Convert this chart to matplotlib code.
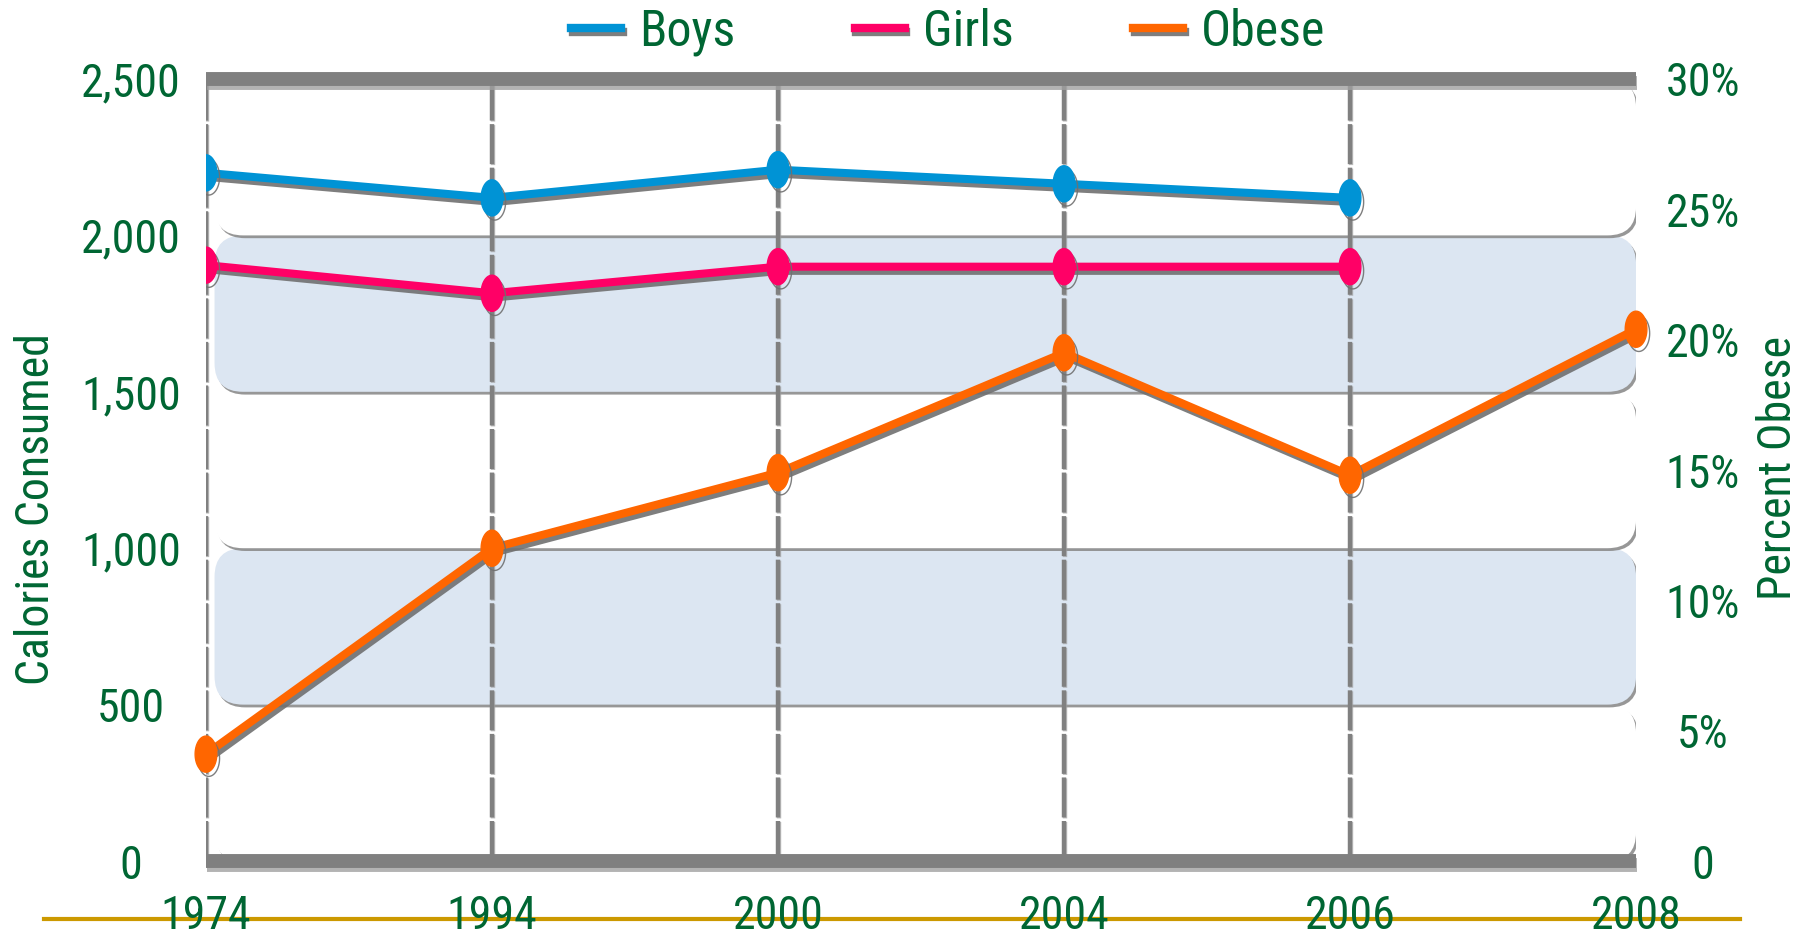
import numpy as np
import matplotlib
matplotlib.use("Agg")
import matplotlib.pyplot as plt
import matplotlib.patheffects as pe
from matplotlib.patches import FancyBboxPatch
from matplotlib.path import Path
from matplotlib.lines import Line2D

years = ["1974", "1994", "2000", "2004", "2006", "2008"]
boys = [2200, 2120, 2210, 2165, 2120]
girls = [1905, 1815, 1900, 1900, 1900]
obese = [4.1, 12.0, 14.9, 19.5, 14.8, 20.4]

cal_ticks = [0, 500, 1000, 1500, 2000, 2500]
pct_ticks = [0, 5, 10, 15, 20, 25, 30]
bands = [(0, 500, "white"), (500, 1000, "#dce6f2"), (1000, 1500, "white"),
         (1500, 2000, "#dce6f2"), (2000, 2500, "white")]

GREEN = "#006633"
plt.rcParams['font.family'] = ['Liberation Sans Narrow', 'Roboto Condensed', 'DejaVu Sans']
plt.rcParams['font.stretch'] = 'condensed'

# tall ellipse marker like the original
t = np.linspace(0, 2 * np.pi, 60)
ellipse = Path(np.column_stack([0.6 * np.cos(t), np.sin(t)]), closed=True)

shadow = [pe.SimpleLineShadow(offset=(2, -3), shadow_color="#707070", alpha=0.9), pe.Normal()]

fig = plt.figure(figsize=(18.13, 9.36), dpi=100)
ax = fig.add_axes([0.1136, 0.0801, 0.7888, 0.8355])
ax2 = ax.twinx()

x = np.arange(len(years))
ax.set_xlim(0, len(years) - 1)
ax.set_ylim(0, 2500)
ax2.set_ylim(0, 30)

# background bands with rounded corners and soft shadow
aspect = (2500 / 782) / (5 / 1430)
for lo, hi, col in bands:
    p = FancyBboxPatch((0.03, lo), 4.97, hi - lo,
                       boxstyle="round,pad=0,rounding_size=0.1",
                       mutation_aspect=aspect, fc=col, ec="none", zorder=0.5,
                       path_effects=[pe.SimplePatchShadow(offset=(1.5, -2), shadow_rgbFace="#8c8c8c", alpha=0.9),
                                     pe.Normal()])
    ax.add_patch(p)

# vertical dashed grid lines
ax.vlines(x[:-1], 0, 2500, colors="#808080", linewidth=3.2, linestyles=(0, (9, 0.8)), zorder=1,
          path_effects=[pe.SimpleLineShadow(offset=(1, -1), shadow_color="#a0a0a0", alpha=0.7), pe.Normal()])

# heavy top and bottom bars
for yv in (0, 2500):
    ax.axhline(yv, color="#808080", linewidth=10, zorder=2, clip_on=False, solid_capstyle="butt",
               path_effects=[pe.SimpleLineShadow(offset=(1, -3), shadow_color="#a0a0a0", alpha=0.8), pe.Normal()])

for s in ax.spines.values():
    s.set_visible(False)
for s in ax2.spines.values():
    s.set_visible(False)

ax.plot(x[:len(boys)], boys, color="#0093d5", lw=5.8, marker=ellipse, ms=26, zorder=5, path_effects=shadow)
ax.plot(x[:len(girls)], girls, color="#ff0066", lw=5.8, marker=ellipse, ms=26, zorder=5, path_effects=shadow)
ax2.plot(x, obese, color="#ff6600", lw=5.8, marker=ellipse, ms=26, zorder=5, path_effects=shadow, clip_on=False)

ax.set_yticks(cal_ticks)
ax.set_yticklabels([f"{v:,}" for v in cal_ticks], ha="center")
ax.set_xticks(x)
ax.set_xticklabels(years)
ax.tick_params(axis="y", length=0, pad=54, labelsize=33, labelcolor=GREEN)
ax.tick_params(axis="x", length=0, pad=24, labelsize=33, labelcolor=GREEN)

ax2.set_yticks(pct_ticks)
ax2.set_yticklabels(["0" if v == 0 else f"{v}%" for v in pct_ticks], ha="center")
ax2.tick_params(axis="y", length=0, pad=48, labelsize=33, labelcolor=GREEN)

ax.set_ylabel("Calories Consumed", fontsize=33, color=GREEN)
ax.yaxis.set_label_coords(-0.1035, 0.45)
ax2.set_ylabel("Percent Obese", fontsize=33, color=GREEN, rotation=90)
ax2.yaxis.set_label_coords(1.084, 0.503)
ax2.patch.set_visible(False)

handles = [Line2D([], [], color=c, lw=6, path_effects=[pe.SimpleLineShadow(offset=(1, -3), shadow_color="#707070", alpha=0.9), pe.Normal()])
           for c in ("#0093d5", "#ff0066", "#ff6600")]
fig.legend(handles, ["Boys", "Girls", "Obese"], loc="center", bbox_to_anchor=(0.523, 0.966), ncol=3,
           frameon=False, fontsize=36, labelcolor=GREEN, handlelength=1.0, handletextpad=0.35,
           columnspacing=2.4)

# gold rule under the chart
fig.add_artist(Line2D([0.024, 0.96], [0.018, 0.018], transform=fig.transFigure, color="#cc9900", lw=3, zorder=0))

fig.savefig("out.png", dpi=100)
